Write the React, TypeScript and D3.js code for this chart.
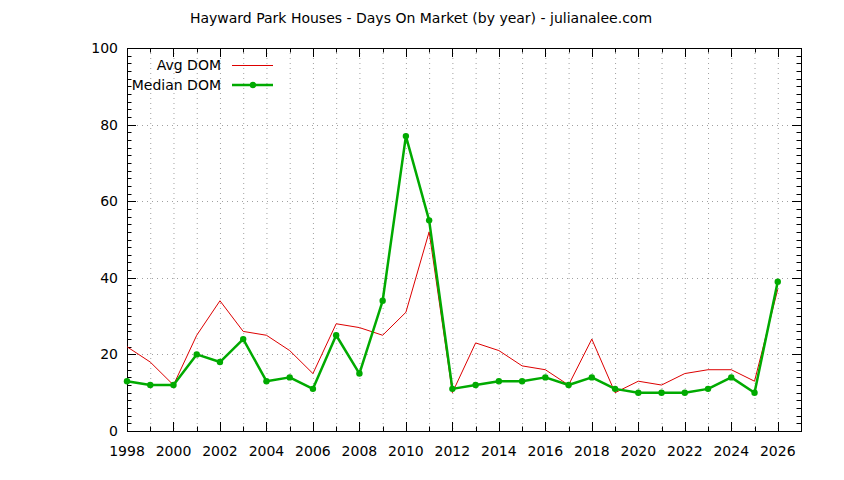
import * as d3 from "d3";

const years = d3.range(1998, 2027);
const avgDom = [22, 18, 12, 25, 34, 26, 25, 21, 15, 28, 27, 25, 31, 52, 10, 23, 21, 17, 16, 12, 24, 10, 13, 12, 15, 16, 16, 13, 37];
const medianDom = [13, 12, 12, 20, 18, 24, 13, 14, 11, 25, 15, 34, 77, 55, 11, 12, 13, 13, 14, 12, 14, 11, 10, 10, 10, 11, 14, 10, 39];
const yTicks = [0, 20, 40, 60, 80, 100];
const xLabelYears = d3.range(1998, 2027, 2);

const W = 844;
const H = 480;
const m = { left: 127, right: 801, top: 48, bottom: 431 };
const font = "'DejaVu Sans', sans-serif";

export default function App() {
  const x = d3.scaleLinear().domain([1998, 2027]).range([m.left, m.right]);
  const y = d3.scaleLinear().domain([0, 100]).range([m.bottom, m.top]);

  const line = d3.line<number>().x((_, i) => x(years[i])).y(d => y(d));

  const allYears = d3.range(1998, 2028);
  const minorY = d3.range(0, 101, 2).filter(v => v % 20 !== 0);

  return (
    <svg width={W} height={H} style={{ position: "absolute", left: 0, top: 0, background: "#fff" }} fontFamily={font}>
      <text x={421} y={23} fontSize={14} textAnchor="middle" fill="#000">
        Hayward Park Houses - Days On Market (by year) - julianalee.com
      </text>

      {/* grid */}
      <g stroke="#a0a0a0" strokeWidth={1} strokeDasharray="1,4">
        {years.slice(1).map(yr => (
          <line key={"gx" + yr} x1={x(yr) + 0.5} x2={x(yr) + 0.5} y1={m.top} y2={m.bottom} />
        ))}
        {yTicks.slice(1, -1).map(v => (
          <line key={"gy" + v} x1={m.left} x2={m.right} y1={Math.round(y(v)) + 0.5} y2={Math.round(y(v)) + 0.5} />
        ))}
      </g>

      {/* ticks */}
      <g stroke="#000" strokeWidth={1}>
        {allYears.map(yr => {
          const len = yr % 2 === 0 ? 9 : 4.5;
          const px = Math.round(x(yr)) + 0.5;
          return (
            <g key={"tx" + yr}>
              <line x1={px} x2={px} y1={m.bottom} y2={m.bottom - len} />
              <line x1={px} x2={px} y1={m.top} y2={m.top + len} />
            </g>
          );
        })}
        {yTicks.map(v => {
          const py = Math.round(y(v)) + 0.5;
          return (
            <g key={"ty" + v}>
              <line x1={m.left} x2={m.left + 9} y1={py} y2={py} />
              <line x1={m.right} x2={m.right - 9} y1={py} y2={py} />
            </g>
          );
        })}
        {minorY.map(v => {
          const py = Math.round(y(v)) + 0.5;
          return (
            <g key={"my" + v}>
              <line x1={m.left} x2={m.left + 4.5} y1={py} y2={py} />
              <line x1={m.right} x2={m.right - 4.5} y1={py} y2={py} />
            </g>
          );
        })}
      </g>

      <rect x={m.left + 0.5} y={m.top + 0.5} width={m.right - m.left} height={m.bottom - m.top} fill="none" stroke="#000" strokeWidth={1} />

      {/* tick labels */}
      <g fontSize={14} fill="#000">
        {xLabelYears.map(yr => (
          <text key={"lx" + yr} x={x(yr)} y={456} textAnchor="middle">{yr}</text>
        ))}
        {yTicks.map(v => (
          <text key={"ly" + v} x={118} y={y(v) + 5} textAnchor="end">{v}</text>
        ))}
      </g>

      {/* series */}
      <path d={line(avgDom) ?? ""} fill="none" stroke="#dd0000" strokeWidth={1} />
      <path d={line(medianDom) ?? ""} fill="none" stroke="#00aa00" strokeWidth={2.5} strokeLinejoin="round" />
      {medianDom.map((v, i) => (
        <circle key={"pt" + i} cx={x(years[i])} cy={y(v)} r={3.2} fill="#00aa00" />
      ))}

      {/* legend */}
      <g fontSize={14} fill="#000">
        <text x={221} y={70} textAnchor="end">Avg DOM</text>
        <line x1={232} x2={273} y1={65.5} y2={65.5} stroke="#dd0000" strokeWidth={1} />
        <text x={221} y={90} textAnchor="end">Median DOM</text>
        <line x1={232} x2={273} y1={85} y2={85} stroke="#00aa00" strokeWidth={2.5} />
        <circle cx={253} cy={85} r={3.2} fill="#00aa00" />
      </g>
    </svg>
  );
}
